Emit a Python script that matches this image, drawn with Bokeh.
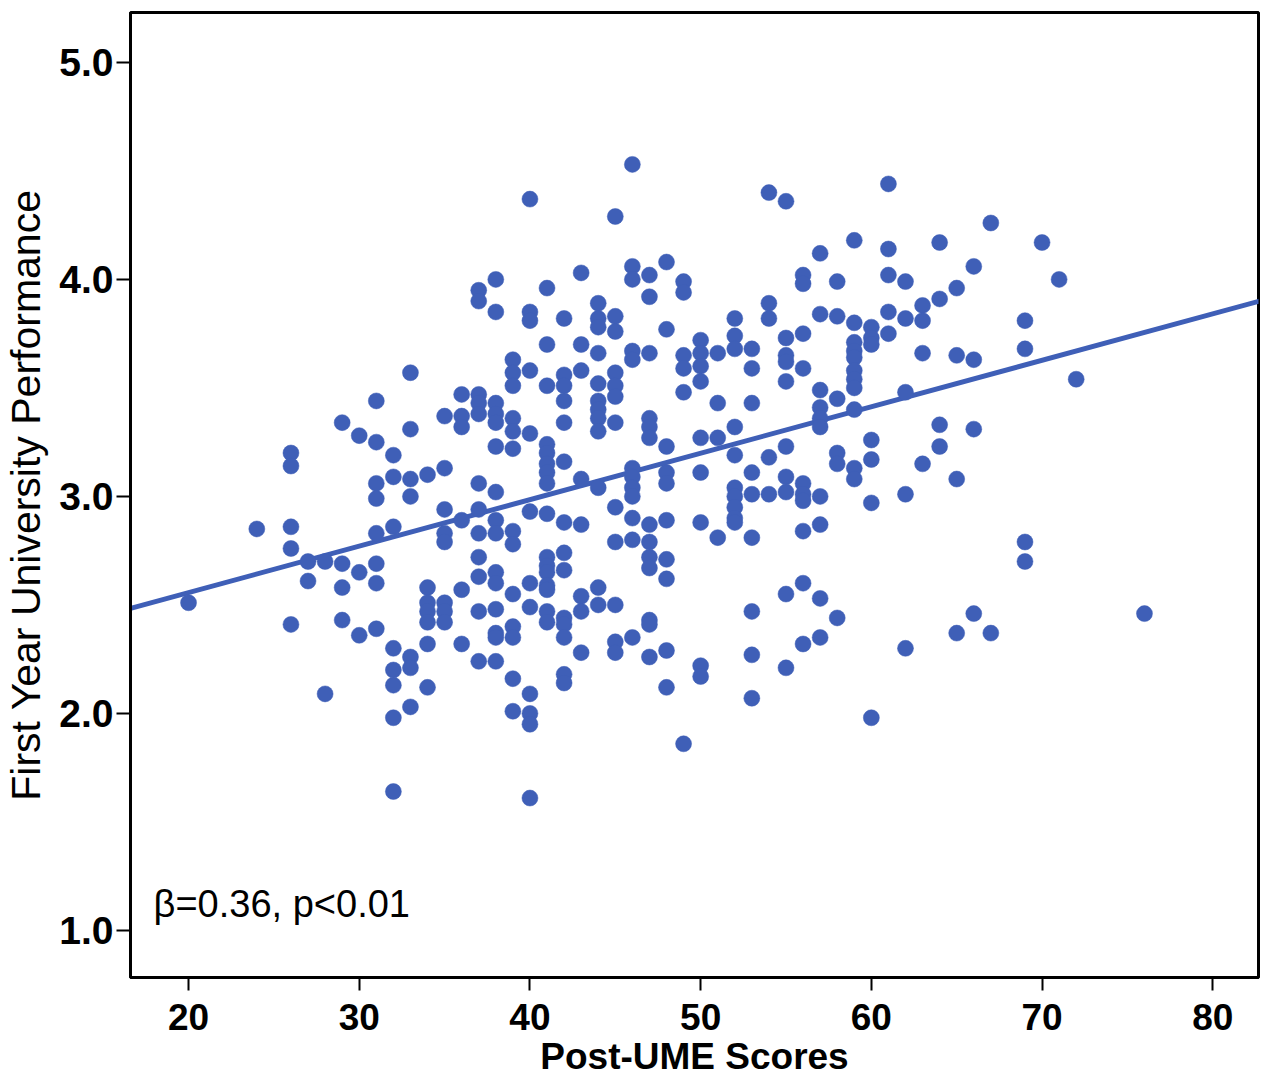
from bokeh.plotting import figure
from bokeh.models import Label, FixedTicker, CustomJSTickFormatter
from bokeh.embed import file_html
from bokeh.resources import INLINE

# Post-UME score columns and the First Year performance values read in each column
score_cols = [20, 24, 26, 27, 28, 29, 30, 31, 32, 33, 34, 35, 36, 37, 38, 39, 40,
              41, 42, 43, 44, 45, 46, 47, 48, 49, 50, 51, 52, 53, 54, 55, 56, 57,
              58, 59, 60, 61, 62, 63, 64, 65, 66, 67, 69, 70, 71, 72, 76]
perf_by_col = [
    [2.51],
    [2.85],
    [3.20, 3.14, 2.86, 2.76, 2.41],
    [2.70, 2.61],
    [2.70, 2.09],
    [3.34, 2.69, 2.58, 2.43],
    [3.28, 2.65, 2.36],
    [3.44, 3.25, 3.06, 2.99, 2.83, 2.69, 2.60, 2.39],
    [3.19, 3.09, 2.86, 2.30, 2.20, 2.13, 1.98, 1.64],
    [3.57, 3.31, 3.08, 3.00, 2.26, 2.21, 2.03],
    [3.10, 2.58, 2.51, 2.47, 2.42, 2.32, 2.12],
    [3.37, 3.13, 2.94, 2.83, 2.79, 2.51, 2.47, 2.42],
    [3.47, 3.37, 3.32, 2.89, 2.57, 2.32],
    [3.95, 3.90, 3.47, 3.43, 3.38, 3.06, 2.94, 2.83, 2.72, 2.63, 2.47, 2.24],
    [4.00, 3.85, 3.43, 3.38, 3.34, 3.23, 3.02, 2.89, 2.83, 2.65, 2.60, 2.48, 2.37, 2.35, 2.24],
    [3.63, 3.57, 3.51, 3.36, 3.30, 3.22, 2.84, 2.78, 2.55, 2.40, 2.35, 2.16, 2.01],
    [4.37, 3.85, 3.81, 3.58, 3.29, 2.93, 2.60, 2.49, 2.09, 2.00, 1.95, 1.61],
    [3.96, 3.70, 3.51, 3.24, 3.20, 3.15, 3.11, 3.06, 2.92, 2.72, 2.68, 2.65, 2.59, 2.57, 2.47, 2.42],
    [3.82, 3.56, 3.51, 3.44, 3.34, 3.16, 2.88, 2.74, 2.66, 2.44, 2.41, 2.35, 2.18, 2.14],
    [4.03, 3.70, 3.58, 3.08, 2.87, 2.54, 2.47, 2.28],
    [3.89, 3.82, 3.78, 3.66, 3.52, 3.44, 3.40, 3.36, 3.30, 3.04, 2.58, 2.50],
    [4.29, 3.83, 3.76, 3.57, 3.51, 3.46, 3.34, 2.95, 2.79, 2.50, 2.33, 2.28],
    [4.53, 4.06, 4.00, 3.67, 3.63, 3.13, 3.09, 3.04, 3.00, 2.90, 2.80, 2.35],
    [4.02, 3.92, 3.66, 3.36, 3.32, 3.27, 2.87, 2.79, 2.72, 2.67, 2.43, 2.41, 2.26],
    [4.08, 3.77, 3.23, 3.11, 3.06, 2.89, 2.71, 2.62, 2.29, 2.12],
    [3.99, 3.94, 3.65, 3.59, 3.48, 1.86],
    [3.72, 3.66, 3.60, 3.53, 3.27, 3.11, 2.88, 2.22, 2.17],
    [3.66, 3.43, 3.27, 2.81],
    [3.82, 3.74, 3.68, 3.32, 3.19, 3.04, 3.00, 2.95, 2.90, 2.88],
    [3.68, 3.59, 3.43, 3.11, 3.01, 2.81, 2.47, 2.27, 2.07],
    [4.40, 3.89, 3.82, 3.18, 3.01],
    [4.36, 3.73, 3.65, 3.62, 3.53, 3.23, 3.09, 3.02, 2.55, 2.21],
    [4.02, 3.98, 3.75, 3.59, 3.06, 3.01, 2.98, 2.84, 2.60, 2.32],
    [4.12, 3.84, 3.49, 3.41, 3.36, 3.32, 3.00, 2.87, 2.53, 2.35],
    [3.99, 3.83, 3.45, 3.20, 3.15, 2.44],
    [4.18, 3.80, 3.71, 3.67, 3.64, 3.58, 3.54, 3.50, 3.40, 3.13, 3.08],
    [3.78, 3.73, 3.70, 3.26, 3.17, 2.97, 1.98],
    [4.44, 4.14, 4.02, 3.85, 3.75],
    [3.99, 3.82, 3.48, 3.01, 2.30],
    [3.88, 3.81, 3.66, 3.15],
    [4.17, 3.91, 3.33, 3.23],
    [3.96, 3.65, 3.08, 2.37],
    [4.06, 3.63, 3.31, 2.46],
    [4.26, 2.37],
    [3.81, 3.68, 2.79, 2.70],
    [4.17],
    [4.00],
    [3.54],
    [2.46],
]

# Fitted regression line end points
fit_x = [16.6, 83.3]
fit_y = [2.484, 3.912]

x_ticks = [20, 30, 40, 50, 60, 70, 80]
y_ticks = [1.0, 2.0, 3.0, 4.0, 5.0]
annotation = "β=0.36, p<0.01"

xs, ys = [], []
for sc, vals in zip(score_cols, perf_by_col):
    for v in vals:
        xs.append(sc)
        ys.append(v)

BLUE = "#3F5FB7"
FONT = "Liberation Sans"

p = figure(width=1260, height=1080, x_range=(16.6, 82.68), y_range=(0.783, 5.230),
           output_backend="svg", toolbar_location=None,
           min_border_left=130, min_border_right=2, min_border_top=12, min_border_bottom=103)

p.background_fill_color = "white"
p.border_fill_color = "white"
p.xgrid.visible = False
p.ygrid.visible = False
p.outline_line_color = "black"
p.outline_line_width = 3

p.line(fit_x, fit_y, line_color=BLUE, line_width=5)
p.scatter(xs, ys, size=16, fill_color=BLUE, line_color=BLUE, line_width=0.5)

for ax in (p.xaxis[0], p.yaxis[0]):
    ax.axis_line_color = "black"
    ax.axis_line_width = 3
    ax.major_tick_line_color = "black"
    ax.major_tick_line_width = 2
    ax.major_tick_in = 0
    ax.minor_tick_line_color = None
    ax.major_label_text_font = FONT
    ax.major_label_text_font_style = "bold"
    ax.major_label_text_color = "black"
    ax.axis_label_text_font = FONT
    ax.axis_label_text_color = "black"

p.xaxis.ticker = FixedTicker(ticks=x_ticks)
p.yaxis.ticker = FixedTicker(ticks=y_ticks)
p.yaxis.formatter = CustomJSTickFormatter(code="return tick.toFixed(1);")

p.xaxis.major_tick_out = 13
p.xaxis.major_label_standoff = 13
p.xaxis.major_label_text_font_size = "37px"
p.xaxis.axis_label = "Post-UME Scores"
p.xaxis.axis_label_text_font_size = "37px"
p.xaxis.axis_label_text_font_style = "bold"
p.xaxis.axis_label_standoff = 3

p.yaxis.major_tick_out = 14
p.yaxis.major_label_standoff = 3
p.yaxis.major_label_text_font_size = "39px"
p.yaxis.axis_label = "First Year University Performance"
p.yaxis.axis_label_text_font_size = "41px"
p.yaxis.axis_label_text_font_style = "normal"
p.yaxis.axis_label_standoff = 7

p.add_layout(Label(x=17.95, y=1.12, text=annotation, text_font=FONT, text_font_size="38px",
                   text_color="black", text_baseline="alphabetic"))

open("out.html", "w").write(file_html(p, INLINE))
